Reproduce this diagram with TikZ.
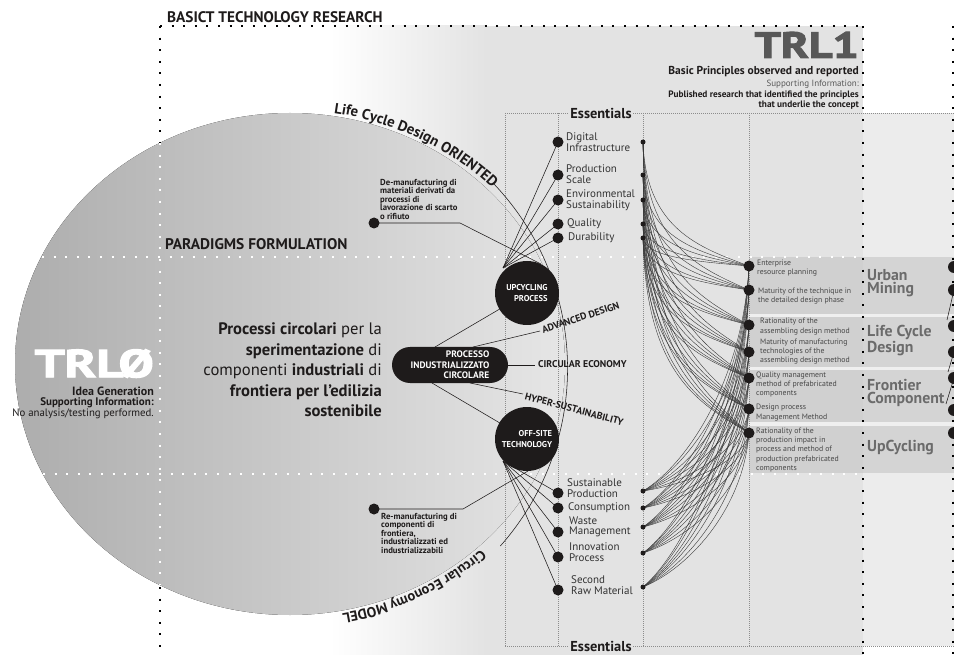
\documentclass[tikz,border=0pt]{standalone}
\usepackage{fontspec}
\setmainfont{PT Sans}
\newfontfamily\heavyfont[FakeBold=2.5]{PT Sans Bold}
\usetikzlibrary{decorations.text}
\definecolor{bg}{HTML}{E3E3E3}
\definecolor{bgr}{HTML}{ECECEC}
\definecolor{band}{HTML}{D0D0D0}
\definecolor{bandr}{HTML}{D4D4D4}
\definecolor{gapc}{HTML}{EFEFEF}
\definecolor{lbl}{HTML}{6B6B6B}
\definecolor{trl}{HTML}{585858}
\definecolor{ink}{HTML}{1E1B1B}
\definecolor{txt}{HTML}{333333}
\definecolor{ca}{HTML}{ADADAD}
\definecolor{cb}{HTML}{D2D2D2}
\definecolor{cc}{HTML}{E6E6E6}
\newcommand{\fsz}[2]{\fontsize{#1}{#2}\selectfont}
\pgfdeclarelayer{bglayer}
\pgfdeclarelayer{linelayer}
\pgfsetlayers{bglayer,linelayer,main}
\begin{document}
\begin{tikzpicture}[x=1pt,y=-1pt,
  bigdots/.style={line width=2pt, dash pattern=on 2pt off 9.6pt},
  gridl/.style={black!45, line width=0.5pt, dash pattern=on 0.5pt off 1.5pt},
  dotbig/.style={circle, fill=ink, inner sep=0pt, minimum size=11pt},
  dotsm/.style={circle, fill=ink, inner sep=0pt, minimum size=5pt},
  ess/.style={anchor=west, inner sep=0pt, align=left, text=txt, font=\fsz{11}{10.5}},
  smalltxt/.style={anchor=west, inner sep=0pt, align=left, text=black!72, font=\fsz{7.8}{9.4}},
  area/.style={anchor=west, inner sep=0pt, align=left, text=lbl, font=\bfseries\fsz{15.8}{13}},
  note/.style={anchor=west, inner sep=0pt, align=left, text=ink, font=\bfseries\fsz{8.7}{8.5}},
  hub/.style={circle, fill=ink, minimum size=64pt, inner sep=0pt, text=white, align=right, font=\bfseries\fsz{8.5}{11}},
  linklbl/.style={inner sep=0pt, text=ink, font=\bfseries\fsz{9.8}{9.8}},
  thinl/.style={line width=0.55pt, draw=ink},
  curve/.style={line width=0.4pt, draw=black!78}
]
\useasboundingbox (0,0) rectangle (954,655);

% ---------------- nodes ----------------
\node[anchor=west, inner sep=0pt, text=ink, font=\bfseries\fsz{15.3}{15.3}] (title) at (167,17) {BASICT TECHNOLOGY RESEARCH};
\node[anchor=west, inner sep=0pt, text=ink, font=\bfseries\fsz{15.4}{15.4}] (parad) at (165,244.5) {PARADIGMS FORMULATION};

\node[anchor=east, align=right, inner sep=0pt, text=ink, font=\fsz{16.6}{20.5}] (main) at (382,370)
  {\textbf{Processi circolari} per la\\\textbf{sperimentazione} di\\componenti \textbf{industriali} di\\\textbf{frontiera per l’edilizia}\\\textbf{sostenibile}};

% TRL0
\node[anchor=south east, inner sep=0pt, text=white] (trl0) at (154,378) {\resizebox{119pt}{28pt}{\heavyfont TRLØ}};
\node[anchor=east, inner sep=0pt, text=ink, font=\bfseries\fsz{12}{12}] (ig) at (154,391.5) {Idea Generation};
\node[anchor=east, inner sep=0pt, text=ink, font=\bfseries\fsz{11}{11}] (si0) at (154,403) {Supporting Information:};
\node[anchor=east, inner sep=0pt, text=ink, font=\fsz{10.8}{10.8}] (na0) at (154,414) {No analysis/testing performed.};

% TRL1
\node[anchor=south east, inner sep=0pt, text=trl] (trl1) at (859,58) {\resizebox{104pt}{26pt}{\heavyfont TRL1}};
\node[anchor=east, inner sep=0pt, text=ink, font=\bfseries\fsz{11.5}{11.5}] (bp) at (859,72) {Basic Principles observed and reported};
\node[anchor=east, inner sep=0pt, text=black!65, font=\fsz{9}{9}] (si1) at (859,84) {Supporting Information:};
\node[anchor=east, inner sep=0pt, text=ink, font=\bfseries\fsz{9.3}{9.3}] (pr1) at (859,95) {Published research that identified the principles};
\node[anchor=east, inner sep=0pt, text=ink, font=\bfseries\fsz{9.3}{9.3}] (pr2) at (859,105.5) {that underlie the concept};

% notes
\node[note] (dmtxt) at (380,199) {De-manufacturing di\\materiali derivati da\\processi di\\lavorazione di scarto\\o rifiuto};
\node[dotbig] (dm) at (374,223) {};
\node[note] (rmtxt) at (381,533) {Re-manufacturing di\\componenti di\\frontiera,\\industrializzati ed\\industrializzabili};
\node[dotbig] (rm) at (374,509) {};

% hubs
\node[hub] (up) at (527,293) {UPCYCLING\\PROCESS};
\node[hub] (off) at (527,439) {OFF-SITE\\TECHNOLOGY};
\node[rectangle, rounded corners=18pt, fill=ink, minimum width=116pt, minimum height=36pt, inner sep=0pt,
      text=white, align=right, font=\bfseries\fsz{9.4}{10.6}] (proc) at (450,365) {PROCESSO\\INDUSTRIALIZZATO\\CIRCOLARE};

\node[linklbl, rotate=18, anchor=west] (adv) at (542,330) {ADVANCED DESIGN};
\node[linklbl, anchor=west] (ce) at (538,364) {CIRCULAR ECONOMY};
\node[linklbl, rotate=-15, anchor=west] (hy) at (525,396) {HYPER-SUSTAINABILITY};

% essentials
\node[fill=bg, inner sep=1.5pt, text=ink, font=\bfseries\fsz{14.4}{14.4}] (esst) at (601,113) {Essentials};
\node[fill=bg, inner sep=1.5pt, text=ink, font=\bfseries\fsz{14.4}{14.4}] (essb) at (601,646) {Essentials};

\foreach \n/\y in {1/142,2/175,3/200,4/224,5/238} {
  \node[dotbig] (e\n) at (558,\y) {};
  \node[dotsm] (s\n) at (643,\y) {};
}
\foreach \n/\y in {1/493,2/508,3/532,4/557,5/590} \node[dotbig] (f\n) at (558,\y) {};
\foreach \n/\y in {1/491,2/508,3/527,4/553,5/587} \node[dotsm] (b\n) at (643,\y) {};

\node[ess] (le1) at (566,142) {Digital\\Infrastructure};
\node[ess] (le2) at (566,174) {Production\\Scale};
\node[ess] (le3) at (566,200) {Environmental\\Sustainability};
\node[ess] (le4) at (567,224) {Quality};
\node[ess] (le5) at (568,238) {Durability};
\node[ess] (lf1) at (567,488) {Sustainable\\Production};
\node[ess] (lf2) at (568,508) {Consumption};
\node[ess] (lf3) at (569,527) {Waste\\Management};
\node[ess] (lf4) at (569,552) {Innovation\\Process};
\node[ess] (lf5) at (571,585) {Second\\Raw Material};

% right dots
\foreach \n/\y in {1/266,2/290,3/325,4/352,5/378,6/409,7/433} \node[dotbig] (r\n) at (749,\y) {};
\foreach \n/\y in {1/267,2/290,3/326,4/352,5/378,6/410,7/433} \node[dotbig, minimum size=12pt] (g\n) at (954,\y) {};

\node[smalltxt] (lr1) at (757,268) {Enterprise\\resource planning};
\node[smalltxt] (lr2) at (758,296) {Maturity of the technique in\\the detailed design phase};
\node[smalltxt] (lr3) at (760,326.5) {Rationality of the\\assembling design method};
\node[smalltxt] (lr4) at (760,351.5) {Maturity of manufacturing\\technologies of the\\assembling design method};
\node[smalltxt] (lr5) at (756,384.5) {Quality management\\method of prefabricated\\components};
\node[smalltxt] (lr6) at (756,412.5) {Design process\\Management Method};
\node[smalltxt] (lr7) at (756,450) {Rationality of the\\production impact in\\process and method of\\production prefabricated\\components};

\node[area] (a1) at (867,283.5) {Urban\\Mining};
\node[area] (a2) at (867,340.5) {Life Cycle\\Design};
\node[area] (a3) at (867,392.5) {Frontier\\Component};
\node[area] (a4) at (867,448) {UpCycling};

% arc texts
\path[decorate, decoration={text along path, text color=ink,
   text={|\bfseries\fsz{14.8}{14.8}|Life Cycle Design ORIENTED}}]
   (333.8,113.1) arc[start angle=81, end angle=10, x radius=280pt, y radius=254pt];
\path[decorate, decoration={text along path, text color=ink,
   text={|\bfseries\fsz{14.3}{14.3}|Circular Economy MODEL}}]
   (481.0,549.8) arc[start angle=-47, end angle=-120, x radius=280pt, y radius=254pt];

% coordinates for connector ends
\coordinate (upf) at (503,268);
\coordinate (offf) at (503,461);
\coordinate (dmk) at (460,223);
\coordinate (dme) at (541,264);
\coordinate (rmk) at (463,509);
\coordinate (rme) at (528,471);
\coordinate (pa) at (435,347);
\coordinate (pb) at (432,383);
\coordinate (pc) at (473,347);
\coordinate (advE) at (540,331);
\coordinate (ceE) at (535,365);
\coordinate (pd) at (470,383);
\coordinate (hyE) at (523,394);
\coordinate (q1) at (947,320);
\coordinate (q2) at (948,372);
\coordinate (q3) at (946,404);

% ---------------- background ----------------
\begin{pgfonlayer}{bglayer}
\fill[white] (0,0) rectangle (954,655);
\fill[left color=white, right color=bg] (330,26) rectangle (486,655);
\fill[bg] (485,26) rectangle (863,655);
\fill[bgr] (863,113) rectangle (954,646);
\fill[left color=ca, middle color=cb, right color=cc] (290,364) ellipse [x radius=275pt, y radius=251pt];
\fill[gapc] (749,257) rectangle (954,473);
\foreach \ya/\yb in {257/314,317/367,370/422,426/473} {
  \fill[band] (749,\ya) rectangle (863,\yb);
  \fill[bandr] (863,\ya) rectangle (954,\yb);
}
\foreach \x in {505,558,643,749} \draw[gridl] (\x,113) -- (\x,646);
\draw[gridl] (505,113) -- (954,113);
\draw[gridl] (505,646) -- (954,646);
\draw[bigdots, white] (42,257) -- (862,257);
\draw[bigdots, white] (43,474) -- (862,474);
\draw[bigdots, white] (160,143) -- (160,585);
\draw[bigdots] (160,26) -- (863,26);
\draw[bigdots] (160,26) -- (160,143);
\draw[bigdots] (160,587) -- (160,655);
\draw[bigdots] (863,26) -- (863,655);
\draw[bigdots] (953,26) -- (953,655);
\end{pgfonlayer}

% ---------------- connectors ----------------
\begin{pgfonlayer}{linelayer}
\foreach \n in {1,...,5} \draw[thinl] (upf) -- (e\n.center);
\foreach \n in {1,...,5} \draw[thinl] (offf) -- (f\n.center);
\draw[thinl] (dm.center) -- (dmk) -- (dme);
\draw[thinl] (rm.center) -- (rmk) -- (rme);
\draw[thinl] (pa) -- (up.center);
\draw[thinl] (pb) -- (off.center);
\draw[thinl] (pc) -- (advE);
\draw[thinl] (proc.east) -- (ceE);
\draw[thinl] (pd) -- (hyE);
\draw[thinl] (493,183) arc[start angle=43.8, end angle=-41.5, radius=268pt];
\draw[thinl] (g2.center) -- (q1);
\draw[thinl] (g4.center) -- (q2);
\draw[thinl] (g5.center) -- (q3);
\foreach \i/\ys in {1/142,2/175,3/200,4/224,5/238}{
  \foreach \j/\yr in {1/266,2/290,3/325,4/352,5/378,6/409,7/433}{
    \pgfmathsetmacro\dd{0.7*(\yr-\ys)}
    \pgfmathsetmacro\ee{-0.15*(\yr-\ys)}
    \draw[curve] (s\i.center) .. controls +(3,\dd) and +(-50,\ee) .. (r\j.center);
  }
}
\foreach \i/\yb in {1/491,2/508,3/527,4/553,5/587}{
  \foreach \j/\yr in {1/266,2/290,3/325,4/352,5/378,6/409,7/433}{
    \pgfmathsetmacro\dd{0.5*(\yb-\yr)}
    \pgfmathsetmacro\ee{-0.12*(\yb-\yr)}
    \draw[curve] (b\i.center) .. controls +(45,\ee) and +(-6,\dd) .. (r\j.center);
  }
}
\end{pgfonlayer}
\end{tikzpicture}
\end{document}
